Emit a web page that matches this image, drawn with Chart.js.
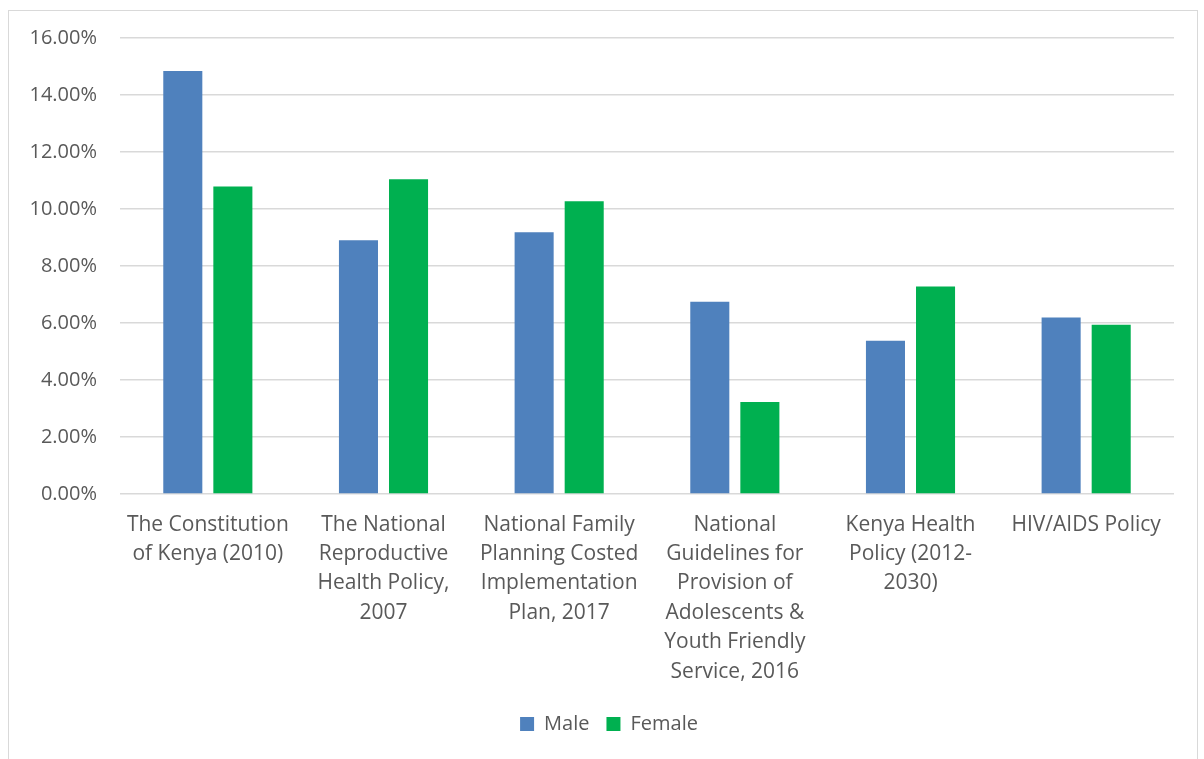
<!DOCTYPE html>
<html>
<head>
<meta charset="utf-8">
<script src="https://cdn.jsdelivr.net/npm/chart.js@4"></script>
<style>
  html, body { margin: 0; padding: 0; background: #fff; }
  #frame { position: absolute; left: 8px; top: 10px; width: 1190px; height: 800px; border: 1px solid #d9d9d9; box-sizing: border-box; }
  #wrap { position: absolute; left: 0; top: 0; width: 1204px; height: 759px; }
</style>
</head>
<body>
<div id="frame"></div>
<div id="wrap"><canvas id="chart"></canvas></div>
<script>
// policies on the x axis, one label line per array entry
const policies = [
  ["The Constitution", "of Kenya (2010)"],
  ["The National", "Reproductive", "Health Policy,", "2007"],
  ["National Family", "Planning Costed", "Implementation", "Plan, 2017"],
  ["National", "Guidelines for", "Provision of", "Adolescents &", "Youth Friendly", "Service, 2016"],
  ["Kenya Health", "Policy (2012-", "2030)"],
  ["HIV/AIDS Policy"]
];
// share of respondents, in percent
const male = [14.84, 8.90, 9.18, 6.75, 5.38, 6.19];
const female = [10.79, 11.04, 10.27, 3.23, 7.28, 5.94];

const textColor = "#595959";
const fontFamily = "'Open Sans', sans-serif";

// nudge the legend a little to the right of the canvas centre
const legendShift = {
  id: "legendShift",
  afterLayout(chart) {
    chart.legend.left += 12;
    chart.legend.right += 12;
  },
};

const ctx = document.getElementById("chart").getContext("2d");
const chart = new Chart(ctx, {
  type: "bar",
  data: {
    labels: policies,
    datasets: [
      {
        label: "Male",
        data: male,
        backgroundColor: "#4f81bd",
        categoryPercentage: 0.57,
        barPercentage: 0.78,
      },
      {
        label: "Female",
        data: female,
        backgroundColor: "#00b050",
        categoryPercentage: 0.57,
        barPercentage: 0.78,
      },
    ],
  },
  plugins: [legendShift],
  options: {
    responsive: true,
    maintainAspectRatio: false,
    animation: false,
    layout: { padding: { left: 20, top: 38, right: 30, bottom: 15 } },
    plugins: {
      tooltip: { enabled: false },
      legend: {
        position: "bottom",
        labels: {
          color: textColor,
          font: { family: fontFamily, size: 20 },
          boxWidth: 14,
          boxHeight: 14,
          padding: 17,
        },
      },
    },
    scales: {
      x: {
        grid: { display: false },
        border: { display: false },
        ticks: {
          color: textColor,
          font: { family: fontFamily, size: 21, lineHeight: 1.4 },
          padding: 8,
          maxRotation: 0,
          autoSkip: false,
        },
        afterFit: (scale) => { scale.height = 203; },
      },
      y: {
        min: 0,
        max: 16,
        grid: { color: "#d9d9d9", lineWidth: 1.5, drawTicks: false },
        border: { display: false },
        ticks: {
          stepSize: 2,
          color: textColor,
          font: { family: fontFamily, size: 20 },
          padding: 23,
          callback: (v) => v.toFixed(2) + "%",
        },
        afterFit: (scale) => { scale.width = 100; },
      },
    },
  },
});
</script>
</body>
</html>
